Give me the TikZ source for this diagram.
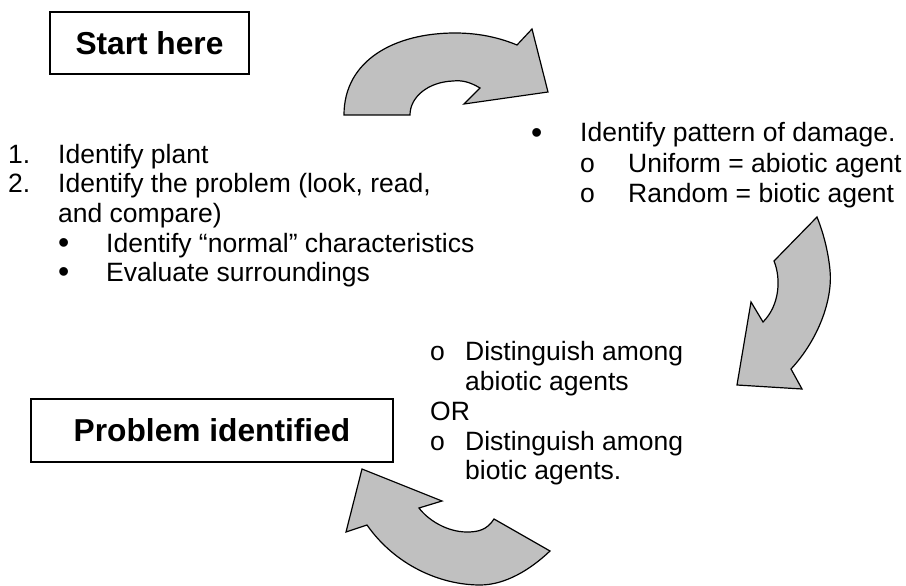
\documentclass[tikz,border=0pt]{standalone}
\usepackage{fontspec}
\setmainfont{Liberation Sans}
\usepackage{tikz}
\definecolor{arrowgray}{RGB}{192,192,192}

\begin{document}
\begin{tikzpicture}[x=1pt, y=-1pt,
  txt/.style={anchor=base west, inner sep=0pt, font=\fontsize{26.5}{30}\selectfont},
  dot/.style={txt, font=\fontsize{32}{30}\selectfont},
  titlebox/.style={draw, line width=1.6pt, inner sep=0pt,
                   font=\fontsize{31.7}{36}\selectfont\bfseries},
  bentarrow/.style={fill=arrowgray, draw=black, line width=1.2pt, line join=miter}]
  \useasboundingbox (0,0) rectangle (906,586);

  % Title boxes
  \node[titlebox, minimum width=199pt, minimum height=62pt] (start) at (149.5,43) {Start here};
  \node[titlebox, minimum width=362pt, minimum height=63pt] (done) at (212,430.5) {Problem identified};

  % Top arrow --- start to pattern
  \draw[bentarrow]
    (344,115) .. controls (344,60) and (395,33) .. (455,33)
    .. controls (480,33) and (500,38) .. (517,45) -- (532,29) -- (548,92) -- (464,104)
    -- (480,88) .. controls (470,82) and (462,80) .. (453,81)
    .. controls (428,82) and (410,97) .. (410,115) -- cycle;

  % Right arrow --- pattern to agents
  \draw[bentarrow]
    (817,217) -- (774,261) .. controls (781,278) and (780,305) .. (763,322)
    -- (751,302) -- (737,385) -- (802,389) -- (791,369)
    .. controls (818,340) and (833,300) .. (830,270)
    .. controls (828,250) and (823,232) .. (817,217) -- cycle;

  % Bottom arrow --- agents to problem identified
  \draw[bentarrow]
    (362,469) -- (346,532) -- (367,525) .. controls (395,565) and (440,585) .. (480,585)
    .. controls (505,585) and (530,570) .. (550,551) -- (494,519)
    .. controls (487,530) and (478,532) .. (467,532)
    .. controls (447,532) and (428,520) .. (419,508) -- (442,501) -- cycle;

  % Left list
  \node[txt] (n1) at (8,163) {1.};
  \node[txt] (plant) at (58,163) {Identify plant};
  \node[txt] (n2) at (8,192) {2.};
  \node[txt] (prob) at (58,192) {Identify the problem (look, read,};
  \node[txt] (prob2) at (58,222) {and compare)};
  \node[dot] (b1) at (58,253) {•};
  \node[txt] (normal) at (106,252) {Identify “normal” characteristics};
  \node[dot] (b2) at (58,282) {•};
  \node[txt] (surr) at (106,281) {Evaluate surroundings};

  % Right list
  \node[dot] (b3) at (531,143) {•};
  \node[txt] (pattern) at (580,142) {Identify pattern of damage.};
  \node[txt] (o1) at (580,172) {o};
  \node[txt] (uniform) at (628,172) {Uniform = abiotic agent};
  \node[txt] (o2) at (580,202) {o};
  \node[txt] (random) at (628,202) {Random = biotic agent};

  % Middle list
  \node[txt] (o3) at (430,360) {o};
  \node[txt] (abio) at (465,360) {Distinguish among};
  \node[txt] (abio2) at (465,390) {abiotic agents};
  \node[txt] (or) at (430,420) {OR};
  \node[txt] (o4) at (430,450) {o};
  \node[txt] (bio) at (465,450) {Distinguish among};
  \node[txt] (bio2) at (465,479) {biotic agents.};
\end{tikzpicture}
\end{document}
